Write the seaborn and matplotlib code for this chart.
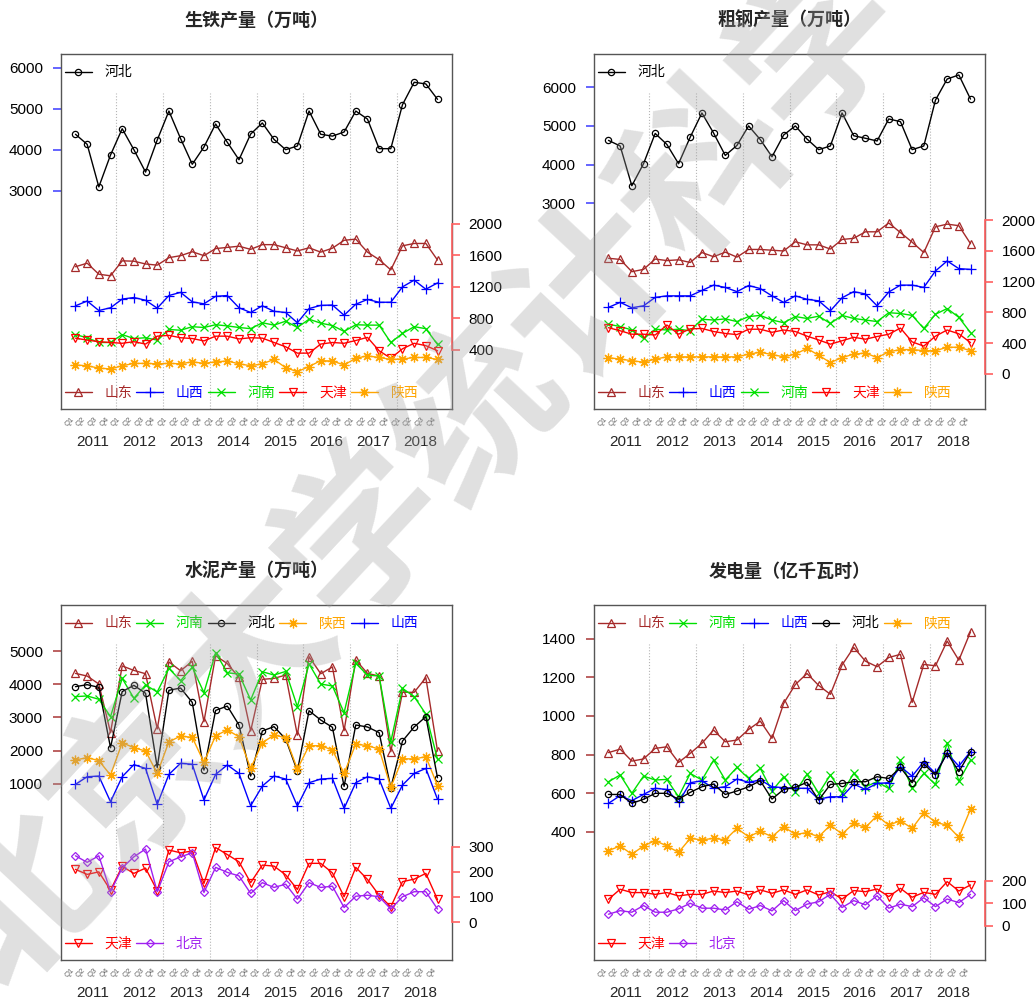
import numpy as np
import matplotlib
matplotlib.use('Agg')
import matplotlib.pyplot as plt
import seaborn as sns

sns.set_style('white')
plt.rcParams['font.family'] = ['Liberation Sans', 'Noto Sans CJK SC']

# x axis labels
quarters = ['Q1', 'Q2', 'Q3', 'Q4'] * 8
years = ['2011', '2012', '2013', '2014', '2015', '2016', '2017', '2018']

# 生铁产量 (万吨)
iron_hebei = [4380, 4135, 3100, 3875, 4515, 4005, 3460, 4240, 4945, 4275, 3650, 4070, 4630, 4185, 3760, 4385,
              4655, 4255, 4005, 4095, 4945, 4380, 4335, 4435, 4945, 4750, 4030, 4030, 5100, 5645, 5605, 5230]
iron_shandong = [1455, 1500, 1360, 1340, 1530, 1525, 1490, 1475, 1570, 1595, 1645, 1595, 1685, 1700, 1715, 1675,
                 1735, 1735, 1695, 1655, 1695, 1640, 1690, 1790, 1805, 1640, 1545, 1415, 1720, 1750, 1750, 1540]
iron_shanxi = [960, 1020, 900, 935, 1045, 1065, 1030, 930, 1090, 1130, 1010, 985, 1080, 1090, 935, 875,
               960, 890, 875, 745, 925, 965, 970, 840, 980, 1040, 1005, 1005, 1200, 1285, 1170, 1250]
iron_henan = [595, 555, 495, 495, 595, 545, 555, 525, 660, 650, 695, 685, 720, 705, 685, 670,
              745, 715, 765, 685, 790, 740, 710, 635, 720, 715, 715, 495, 610, 695, 670, 470]
iron_tianjin = [550, 525, 505, 495, 485, 505, 475, 575, 585, 555, 545, 515, 575, 575, 540, 555,
                550, 495, 440, 360, 360, 475, 495, 485, 520, 560, 390, 295, 415, 485, 455, 390]
iron_shaanxi = [210, 200, 170, 160, 200, 230, 230, 225, 230, 225, 250, 230, 250, 260, 225, 200,
                225, 280, 175, 125, 190, 265, 260, 210, 295, 325, 305, 280, 285, 305, 305, 280]

# 粗钢产量 (万吨)
steel_hebei = [4625, 4480, 3450, 4020, 4805, 4520, 4020, 4710, 5335, 4815, 4235, 4495, 5000, 4645, 4200, 4765,
               5000, 4660, 4385, 4480, 5335, 4745, 4680, 4610, 5180, 5110, 4385, 4480, 5670, 6215, 6320, 5695]
steel_shandong = [1505, 1490, 1330, 1360, 1495, 1475, 1485, 1450, 1580, 1525, 1585, 1520, 1620, 1620, 1610, 1600,
                  1720, 1680, 1680, 1625, 1750, 1765, 1850, 1850, 1965, 1840, 1715, 1580, 1915, 1950, 1930, 1695]
steel_shanxi = [865, 930, 860, 885, 995, 1015, 1015, 1015, 1085, 1155, 1125, 1070, 1150, 1110, 1015, 930,
                1015, 970, 950, 820, 990, 1070, 1040, 885, 1065, 1155, 1155, 1125, 1340, 1470, 1370, 1360]
steel_henan = [645, 615, 570, 460, 580, 570, 580, 560, 710, 700, 715, 680, 745, 760, 700, 665,
               745, 720, 750, 655, 760, 720, 700, 680, 795, 785, 760, 590, 775, 850, 735, 535]
steel_tianjin = [600, 560, 515, 515, 505, 635, 515, 585, 590, 550, 525, 510, 580, 580, 540, 570,
                 550, 490, 440, 385, 430, 475, 450, 485, 515, 595, 415, 360, 490, 570, 520, 405]
steel_shaanxi = [210, 190, 170, 150, 190, 220, 220, 220, 220, 220, 220, 220, 255, 280, 250, 220,
                 255, 330, 240, 145, 210, 255, 270, 210, 285, 315, 315, 300, 300, 345, 345, 300]

# 水泥产量 (万吨)
cement_shandong = [4325, 4245, 4005, 2540, 4550, 4415, 4315, 2650, 4670, 4405, 4690, 2870, 4860, 4620, 4205, 2590,
                   4145, 4175, 4275, 2465, 4830, 4315, 4520, 2600, 4730, 4325, 4245, 1965, 3755, 3755, 4195, 1985]
cement_henan = [3625, 3645, 3545, 3020, 4175, 3575, 3975, 3765, 4475, 4105, 4510, 3745, 4950, 4345, 4305, 3525,
                4375, 4275, 4385, 3320, 4610, 4005, 3945, 3140, 4630, 4275, 4245, 2265, 3875, 3625, 3100, 1735]
cement_hebei = [3925, 3985, 3905, 2085, 3775, 3965, 3725, 1490, 3815, 3885, 3450, 1410, 3210, 3340, 2770, 1230,
                2590, 2720, 2345, 1380, 3200, 2920, 2700, 920, 2770, 2710, 2540, 880, 2285, 2710, 3020, 1180]
cement_shaanxi = [1715, 1785, 1695, 1260, 2235, 2085, 1985, 1310, 2265, 2435, 2395, 1645, 2445, 2620, 2415, 1460,
                  2235, 2465, 2385, 1440, 2145, 2145, 2015, 1310, 2195, 2145, 2045, 890, 1755, 1745, 1815, 940]
cement_shanxi = [980, 1210, 1230, 455, 1210, 1575, 1460, 375, 1280, 1615, 1585, 510, 1280, 1565, 1310, 335,
                 930, 1230, 1140, 325, 1030, 1140, 1160, 255, 1030, 1210, 1140, 255, 960, 1310, 1460, 530]
cement_tianjin = [210, 190, 200, 127, 222, 194, 215, 125, 287, 276, 283, 154, 297, 269, 240, 157,
                  227, 223, 188, 130, 234, 234, 196, 101, 218, 170, 107, 61, 161, 171, 194, 90]
cement_beijing = [264, 238, 264, 121, 216, 260, 291, 121, 240, 260, 276, 118, 218, 198, 184, 114,
                  157, 138, 151, 91, 157, 138, 143, 58, 103, 107, 101, 52, 101, 121, 121, 52]

# 发电量 (亿千瓦时)
power_shandong = [810, 828, 766, 777, 832, 840, 759, 806, 858, 927, 866, 875, 930, 973, 884, 1065,
                  1163, 1220, 1158, 1112, 1264, 1355, 1284, 1255, 1303, 1319, 1070, 1267, 1260, 1388, 1289, 1436]
power_henan = [659, 694, 599, 688, 668, 671, 581, 702, 668, 771, 668, 733, 676, 728, 611, 685,
               607, 697, 599, 694, 602, 702, 633, 659, 624, 771, 624, 702, 645, 861, 662, 771]
power_shanxi = [547, 587, 561, 593, 625, 619, 552, 654, 664, 625, 633, 673, 656, 668, 633, 628,
                625, 625, 568, 581, 581, 647, 619, 650, 654, 737, 688, 763, 702, 806, 740, 815]
power_hebei = [593, 593, 547, 568, 599, 599, 568, 604, 633, 647, 593, 611, 633, 664, 569, 619,
               630, 656, 564, 645, 650, 659, 659, 685, 676, 733, 654, 751, 694, 809, 711, 815]
power_shaanxi = [302, 326, 283, 326, 354, 326, 293, 365, 358, 365, 358, 417, 374, 402, 374, 426,
                 386, 395, 374, 434, 388, 443, 422, 483, 434, 457, 417, 498, 448, 434, 371, 517]
power_tianjin = [118, 163, 148, 148, 140, 148, 133, 140, 140, 155, 148, 155, 137, 160, 145, 160,
                 140, 160, 137, 152, 119, 157, 152, 164, 130, 167, 127, 149, 140, 197, 155, 182]
power_beijing = [51, 67, 60, 90, 60, 60, 75, 100, 78, 78, 70, 107, 73, 90, 66, 112,
                 67, 96, 107, 140, 81, 112, 93, 134, 78, 96, 85, 125, 85, 119, 103, 140]

# styles for each province (R-like pch symbols)
colors = {'河北': 'black', '山东': '#A52A2A', '山西': '#0000FF', '河南': '#00E000',
          '天津': '#FF0000', '陕西': '#FFA500', '北京': '#A020F0'}
markers = {'河北': 'o', '山东': '^', '山西': '+', '河南': 'x',
           '天津': 'v', '陕西': (8, 2, 0), '北京': 'D'}
msizes = {'河北': 4.5, '山东': 6, '山西': 7, '河南': 6, '天津': 6, '陕西': 7, '北京': 4.5}

fig = plt.figure(figsize=(10.35, 10.02), dpi=100)

W, H = 1035, 1002
boxes = [(61, 54), (594, 54), (61, 605), (594, 605)]  # left, top in px
bw, bh = 391, 355

panels = [
    dict(title='生铁产量（万吨）',
         left=[('河北', iron_hebei)],
         right=[('山东', iron_shandong), ('山西', iron_shanxi), ('河南', iron_henan),
                ('天津', iron_tianjin), ('陕西', iron_shaanxi)],
         lylim=(-2304, 6333), lticks=[3000, 4000, 5000, 6000], lcol='#4a4aff',
         rylim=(-348, 4151), rticks=[400, 800, 1200, 1600, 2000]),
    dict(title='粗钢产量（万吨）',
         left=[('河北', steel_hebei)],
         right=[('山东', steel_shandong), ('山西', steel_shanxi), ('河南', steel_henan),
                ('天津', steel_tianjin), ('陕西', steel_shaanxi)],
         lylim=(-2334, 6863), lticks=[3000, 4000, 5000, 6000], lcol='#4a4aff',
         rylim=(-460, 4168), rticks=[0, 400, 800, 1200, 1600, 2000]),
    dict(title='水泥产量（万吨）',
         left=[('山东', cement_shandong), ('河南', cement_henan), ('河北', cement_hebei),
               ('陕西', cement_shaanxi), ('山西', cement_shanxi)],
         right=[('天津', cement_tianjin), ('北京', cement_beijing)],
         lylim=(-4315, 6387), lticks=[1000, 2000, 3000, 4000, 5000], lcol='#b04545',
         rylim=(-151, 1263), rticks=[0, 100, 200, 300]),
    dict(title='发电量（亿千瓦时）',
         left=[('山东', power_shandong), ('河南', power_henan), ('山西', power_shanxi),
               ('河北', power_hebei), ('陕西', power_shaanxi)],
         right=[('天津', power_tianjin), ('北京', power_beijing)],
         lylim=(-265, 1575), lticks=[400, 600, 800, 1000, 1200, 1400], lcol='#b04545',
         rylim=(-154, 1436), rticks=[0, 100, 200]),
]


def draw_series(ax, name, values):
    sns.lineplot(x=np.arange(len(values)), y=values, ax=ax, color=colors[name],
                 marker=markers[name], markersize=msizes[name], markerfacecolor='none',
                 markeredgecolor=colors[name], markeredgewidth=0.9, linewidth=1.0,
                 label=name, errorbar=None)


def make_legend(ax, ypos):
    handles, labels = ax.get_legend_handles_labels()
    ax.legend(handles, labels, loc='center left', bbox_to_anchor=(0.01, ypos),
              ncol=len(labels), frameon=False, fontsize=10, labelcolor='linecolor',
              handlelength=1.95, handletextpad=0.9, columnspacing=0.3,
              borderpad=0, borderaxespad=0, numpoints=1)


for (bx, by), p in zip(boxes, panels):
    ax = fig.add_axes([bx / W, 1 - (by + bh) / H, bw / W, bh / H])
    ax2 = ax.twinx()

    for name, vals in p['left']:
        draw_series(ax, name, vals)
    for name, vals in p['right']:
        draw_series(ax2, name, vals)

    ax.set_xlim(-1.24, 32.24)
    ax.set_ylim(*p['lylim'])
    ax2.set_ylim(*p['rylim'])
    ax.set_xlabel('')
    ax.set_ylabel('')
    ax2.set_ylabel('')

    # year separators
    for b in np.arange(3.5, 31, 4):
        ax.axvline(b, ymin=0, ymax=0.89, color='#b5b5b5', ls=':', lw=0.8, zorder=0)

    # x ticks: quarters, years below
    ax.set_xticks(range(len(quarters)))
    ax.set_xticklabels(quarters, rotation=45, ha='right', va='top', fontsize=5.5, color='#666666')
    ax.tick_params(axis='x', length=0, pad=5)
    for i, yr in enumerate(years):
        ax.text(4 * i + 1.5, -0.093, yr, transform=ax.get_xaxis_transform(),
                ha='center', va='center', fontsize=11)

    # left axis
    ax.set_yticks(p['lticks'])
    ax.set_yticklabels([str(t) for t in p['lticks']])
    ax.tick_params(axis='y', colors=p['lcol'], labelcolor='black', length=6, width=1.2,
                   pad=7, labelsize=11)
    for s in ax.spines.values():
        s.set_color('#555555')
        s.set_linewidth(1.0)

    # right axis
    ax2.set_yticks(p['rticks'])
    ax2.set_yticklabels([str(t) for t in p['rticks']])
    ax2.tick_params(axis='y', colors='#ff6060', labelcolor='black', length=6, width=1.2,
                    pad=6, labelsize=11)
    for side in ['top', 'left', 'bottom']:
        ax2.spines[side].set_visible(False)
    ax2.spines['right'].set_color('#ff6060')
    ax2.spines['right'].set_linewidth(1.2)
    ax2.spines['right'].set_bounds(p['rticks'][0], p['rticks'][-1])

    make_legend(ax, 0.948)
    make_legend(ax2, 0.045)

    ax.set_title(p['title'], y=1.095, pad=0, va='center', fontsize=13,
                 fontweight='bold', family='Noto Sans CJK SC')

# watermark (runs off the canvas edges, as in the original)
fig.text(422 / W, 1 - 475 / H, '北京大学统计科学', rotation=47, rotation_mode='anchor',
         ha='center', va='center', fontsize=120, fontweight='bold', color='#a0a0a0',
         alpha=0.33, family='Noto Sans CJK SC', zorder=10)

fig.savefig('out.png', dpi=100)
